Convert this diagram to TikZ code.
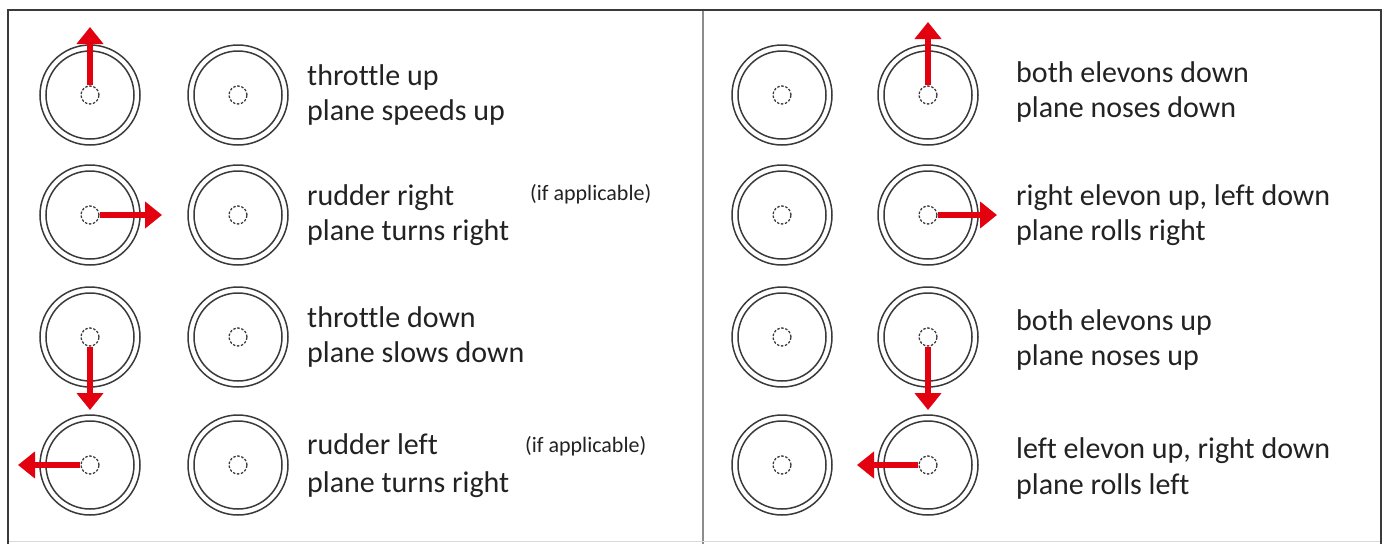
\documentclass[tikz,border=0pt]{standalone}
\usepackage{fontspec}
\setmainfont{Carlito}[Ligatures=NoCommon]
\usetikzlibrary{arrows.meta}
\definecolor{ink}{HTML}{3A3A3A}
\definecolor{textink}{HTML}{222222}
\definecolor{arrowred}{HTML}{E3000F}
\begin{document}
\begin{tikzpicture}[x=1pt,y=-1pt,
  outerring/.style={circle,draw=ink,line width=1.5pt,minimum size=100pt,inner sep=0pt},
  innerring/.style={circle,draw=ink,line width=1.5pt,minimum size=88pt,inner sep=0pt},
  stick/.style={circle,draw=ink,line width=1.3pt,dash pattern=on 2.5pt off 1.6pt,minimum size=18pt,inner sep=0pt},
  redarrow/.style={draw=arrowred,line width=6pt,-{Triangle[width=26pt,length=17pt]}},
  txt/.style={anchor=base west,font=\fontsize{30}{36}\selectfont,text=textink,inner sep=0pt},
  smallnote/.style={anchor=base west,font=\fontsize{22}{26}\selectfont,text=textink,inner sep=0pt},
  frameline/.style={draw=ink,line width=2pt},
  divider/.style={draw=black!45,line width=1.6pt}]
\useasboundingbox (0,0) rectangle (1384,544);
% frame
\draw[divider] (703,10) -- (703,544);
\draw[draw=black!15,line width=1pt] (8,541) -- (1381,541);
\draw[frameline] (8,544) -- (8,10) -- (1381,10) -- (1381,544);
% controls
\foreach \r/\y in {1/95,2/215,3/337,4/465}{
  \foreach \c/\x in {a/90,b/238,c/782,d/928}{
    \node[outerring] (o\c\r) at (\x,\y) {};
    \node[innerring] (i\c\r) at (\x,\y) {};
    \node[stick] (s\c\r) at (\x,\y) {};
  }
}
% arrows
\coordinate (ta1) at (90,27);
\coordinate (ta2) at (162,215);
\coordinate (ta3) at (90,410);
\coordinate (ta4) at (18,465);
\coordinate (td1) at (928,22);
\coordinate (td2) at (997,215);
\coordinate (td3) at (928,410);
\coordinate (td4) at (857,465);
\draw[redarrow] (sa1.north) -- (ta1);
\draw[redarrow] (sa2.east) -- (ta2);
\draw[redarrow] (sa3.south) -- (ta3);
\draw[redarrow] (sa4.west) -- (ta4);
\draw[redarrow] (sd1.north) -- (td1);
\draw[redarrow] (sd2.east) -- (td2);
\draw[redarrow] (sd3.south) -- (td3);
\draw[redarrow] (sd4.west) -- (td4);
% texts left
\node[txt] (l1a) at (307,85) {throttle up};
\node[txt] (l1b) at (307,120) {plane speeds up};
\node[txt] (l2a) at (307,205) {rudder right};
\node[txt] (l2b) at (307,240) {plane turns right};
\node[txt] (l3a) at (307,327) {throttle down};
\node[txt] (l3b) at (307,362) {plane slows down};
\node[txt] (l4a) at (307,454) {rudder left};
\node[txt] (l4b) at (307,492) {plane turns right};
\node[smallnote] (n2) at (530,200) {(if applicable)};
\node[smallnote] (n4) at (525,452) {(if applicable)};
% texts right
\node[txt] (r1a) at (1016,82) {both elevons down};
\node[txt] (r1b) at (1016,117) {plane noses down};
\node[txt] (r2a) at (1016,205) {right elevon up, left down};
\node[txt] (r2b) at (1016,240) {plane rolls right};
\node[txt] (r3a) at (1016,330) {both elevons up};
\node[txt] (r3b) at (1016,365) {plane noses up};
\node[txt] (r4a) at (1016,458) {left elevon up, right down};
\node[txt] (r4b) at (1016,494) {plane rolls left};
\end{tikzpicture}
\end{document}
